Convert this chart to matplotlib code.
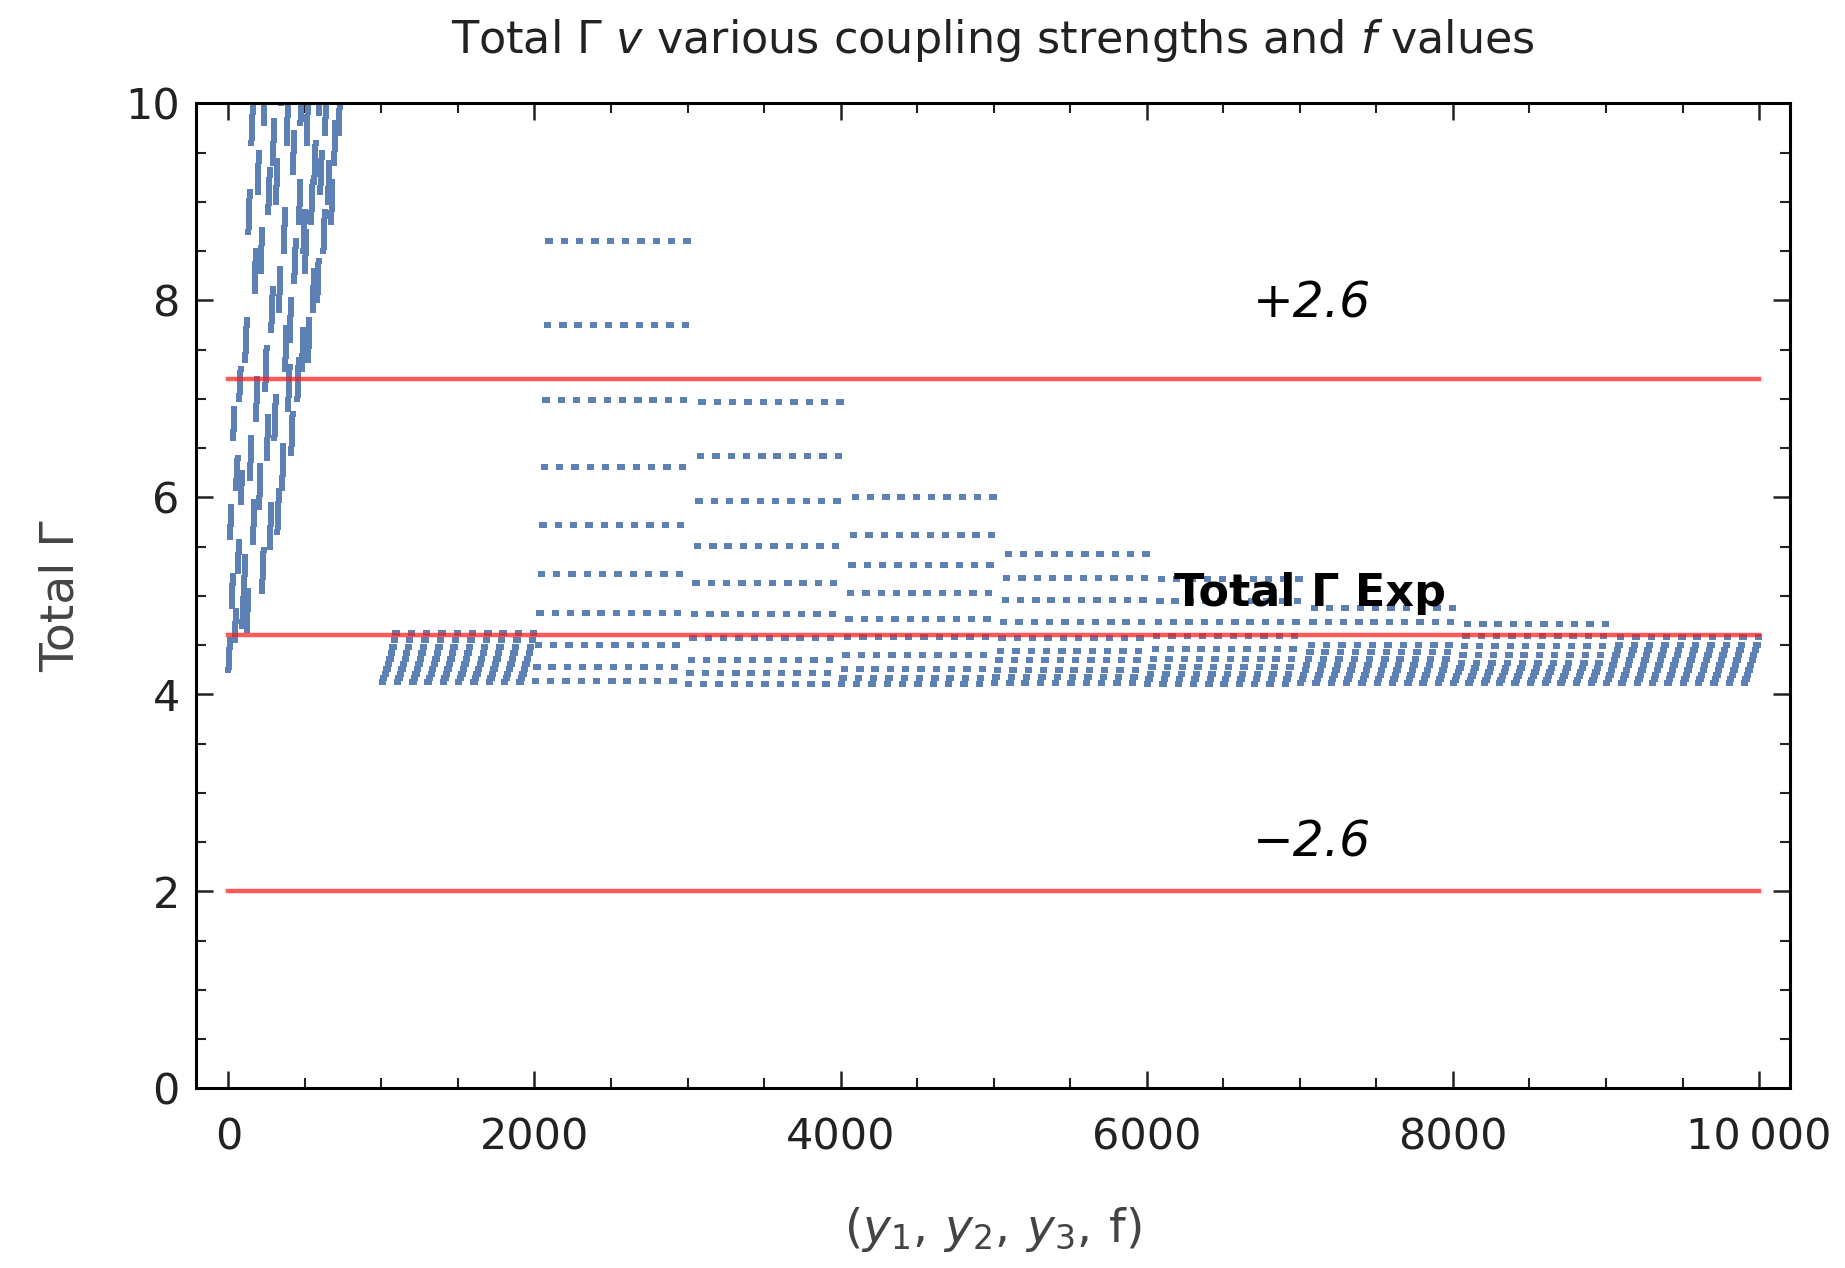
import numpy as np
import matplotlib.pyplot as plt
from matplotlib.ticker import MultipleLocator, FuncFormatter

plt.rcParams["font.family"] = ["DejaVu Sans"]
plt.rcParams["mathtext.fontset"] = "dejavusans"

BLUE = "#5E81B5"

# block 0 (index 1..1000): one row of levels per 100-wide slot, 10 sub-levels each
cloud_levels = [
    [4.25, 5.60, 4.90, 6.60, 4.55, 6.10, 5.25, 7.00, 5.95, 4.70],
    [5.00, 7.40, 4.65, 8.70, 6.20, 9.60, 5.55, 8.10, 6.80, 9.10],
    [5.90, 8.30, 5.05, 9.80, 7.10, 6.40, 8.90, 5.50, 7.70, 9.40],
    [6.60, 9.00, 5.65, 7.90, 10.0, 6.10, 8.50, 7.30, 9.60, 6.90],
    [7.60, 6.45, 9.30, 8.20, 10.2, 7.00, 8.80, 9.80, 7.30, 8.50],
    [8.30, 9.60, 7.40, 10.3, 8.80, 7.90, 9.20, 10.6, 8.00, 9.90],
    [9.10, 10.4, 8.50, 9.70, 11.0, 9.00, 10.1, 8.80, 11.4, 9.40],
    [10.4, 11.2, 9.70, 12.0, 10.8, 11.6, 12.5, 10.1, 13.0, 11.9],
    [11.8, 12.6, 10.9, 13.4, 12.2, 13.0, 14.0, 11.4, 14.6, 13.3],
    [13.2, 14.0, 12.2, 14.8, 13.6, 14.4, 15.4, 12.8, 16.0, 14.7],
]
# vertical extent of each 10-point run inside block 0
cloud_spread = [0.30, 0.40, 0.42, 0.42, 0.40, 0.40, 0.40, 0.40, 0.40, 0.40]

# blocks 1..9 (index 1001..10000): 10 levels, repeated in every 100-wide slot
block_levels = [
    [4.13, 4.17, 4.21, 4.26, 4.31, 4.36, 4.42, 4.48, 4.55, 4.62],
    [4.14, 4.28, 4.50, 4.83, 5.22, 5.72, 6.31, 6.99, 7.75, 8.60],
    [4.11, 4.22, 4.35, 4.57, 4.82, 5.13, 5.51, 5.96, 6.42, 6.97],
    [4.11, 4.17, 4.26, 4.40, 4.58, 4.77, 5.03, 5.31, 5.62, 6.00],
    [4.12, 4.18, 4.25, 4.35, 4.44, 4.57, 4.74, 4.96, 5.18, 5.43],
    [4.11, 4.16, 4.21, 4.28, 4.36, 4.46, 4.59, 4.74, 4.95, 5.17],
    [4.12, 4.16, 4.20, 4.25, 4.30, 4.36, 4.43, 4.50, 4.74, 4.88],
    [4.12, 4.15, 4.19, 4.23, 4.27, 4.32, 4.40, 4.49, 4.59, 4.72],
    [4.12, 4.16, 4.20, 4.25, 4.30, 4.35, 4.40, 4.45, 4.50, 4.58],
]

gamma_exp = 4.6
gamma_err = 2.6
ref_lines = [gamma_exp + gamma_err, gamma_exp, gamma_exp - gamma_err]
x_max = 10000

# unpack into index / value arrays
xs, ys = [], []
for g, levels in enumerate(cloud_levels):
    for k, lev in enumerate(levels):
        for j in range(10):
            xs.append(100 * g + 10 * k + j + 1)
            ys.append(lev + cloud_spread[g] * j / 9)
for b, levels in enumerate(block_levels, start=1):
    for g in range(10):
        for k, lev in enumerate(levels):
            for j in range(10):
                xs.append(1000 * b + 100 * g + 10 * k + j + 1)
                ys.append(lev)
xs = np.array(xs)
ys = np.array(ys)


def thousands(v, _):
    v = int(round(v))
    if abs(v) >= 10000:
        return f"{v:,}".replace(",", "\u2009")
    return str(v)


fig = plt.figure(figsize=(18.45, 12.68), dpi=100)
ax = fig.add_axes([0.1065, 0.1416, 0.8635, 0.7768])

ax.scatter(xs, ys, s=15, marker="s", color=BLUE, linewidths=0, zorder=2)

for yv in ref_lines:
    ax.plot([0, x_max], [yv, yv], color="#ff1a1a", lw=3.2, alpha=0.72, zorder=3)

ax.text(7080, 7.97, "+2.6", fontsize=35, style="italic", ha="center", va="center")
ax.text(7080, 2.5, "\u22122.6", fontsize=35, style="italic", ha="center", va="center")
ax.text(7065, 5.02, "Total \u0393 Exp", fontsize=32, fontweight="bold",
        ha="center", va="center", zorder=4)

ax.set_xlim(-208, 10200)
ax.set_ylim(0, 10)
ax.xaxis.set_major_locator(MultipleLocator(2000))
ax.xaxis.set_minor_locator(MultipleLocator(500))
ax.yaxis.set_major_locator(MultipleLocator(2))
ax.yaxis.set_minor_locator(MultipleLocator(0.5))
ax.xaxis.set_major_formatter(FuncFormatter(thousands))

ax.tick_params(which="both", direction="in", top=True, right=True,
               labelsize=31, colors="#222222")
ax.tick_params(which="major", length=12, width=1.8)
ax.tick_params(which="minor", length=7, width=1.5)
ax.tick_params(axis="x", pad=20)
ax.tick_params(axis="y", pad=12)
for sp in ax.spines.values():
    sp.set_linewidth(2.2)

ax.set_title("Total \u0393 $v$ various coupling strengths and $f$ values",
             fontsize=32, color="#222222", pad=36)
ax.set_xlabel(r"$(y_1,\,y_2,\,y_3,\,\mathrm{f})$", fontsize=34,
              color="#444444", labelpad=34)
ax.set_ylabel("Total \u0393", fontsize=34, color="#444444", labelpad=30)

fig.savefig("out.png", dpi=100)
